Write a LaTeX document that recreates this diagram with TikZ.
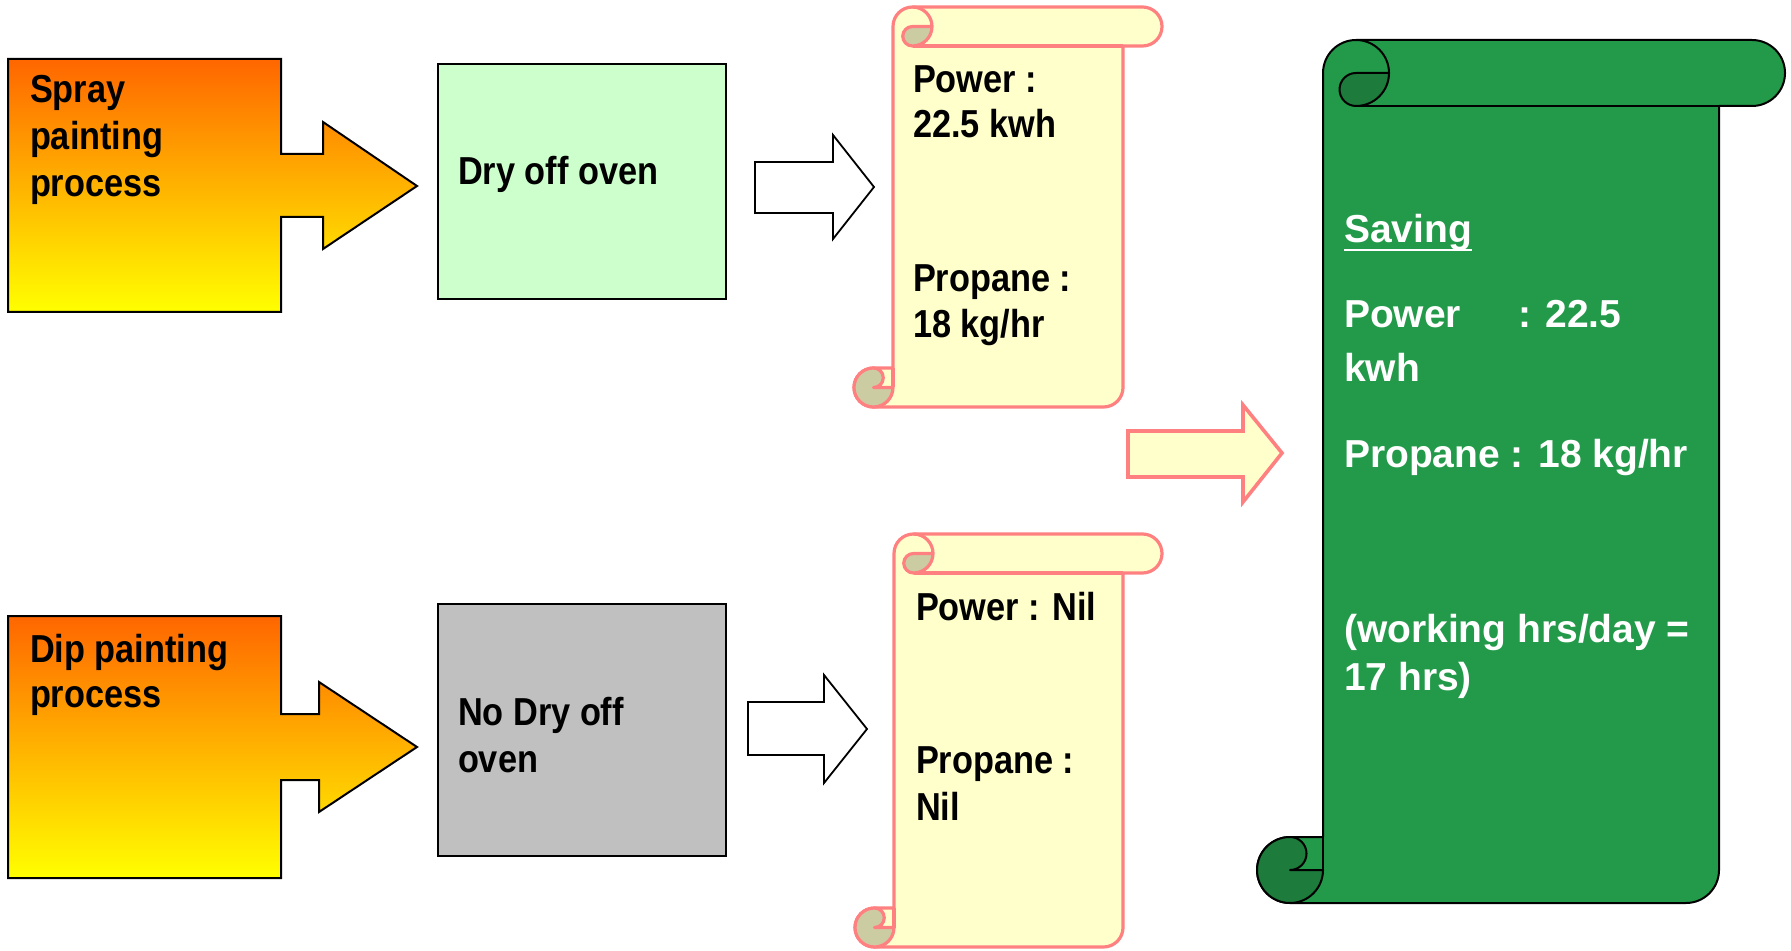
\documentclass[tikz,border=0pt]{standalone}
\usepackage{fontspec}
\setmainfont{Liberation Sans}
\newfontfamily\cond{Liberation Sans}[FakeStretch=0.88]
\usetikzlibrary{calc}
\definecolor{scrollfill}{HTML}{FFFFCC}
\definecolor{scrollline}{HTML}{FF8080}
\definecolor{scrolldark}{HTML}{CCCCA3}
\definecolor{gfill}{HTML}{239A4A}
\definecolor{gdark}{HTML}{1D7B3B}
\definecolor{boxgreen}{HTML}{CCFFCC}
\definecolor{boxgray}{HTML}{C0C0C0}
\definecolor{orangetop}{HTML}{FF6600}
\definecolor{yellowbot}{HTML}{FFFF00}
% scroll: #1 left, #2 top, #3 right, #4 bottom (pixels, y downward), #5 curl size, #6 fill, #7 dark fill, #8 line style
\newcommand\drawscroll[8]{%
  \pgfmathsetmacro\sL{#1}\pgfmathsetmacro\sT{-(#2)}%
  \pgfmathsetmacro\sR{#3}\pgfmathsetmacro\sB{-(#4)}%
  \pgfmathsetmacro\sc{#5}\pgfmathsetmacro\sh{#5/2}\pgfmathsetmacro\sq{#5/4}%
  \pgfmathsetmacro\sxl{#1+#5}\pgfmathsetmacro\sxr{#3-#5}%
  \filldraw[#8, fill=#6] (\sxl,\sT-\sh) arc[start angle=180, end angle=90, radius=\sh]
    -- (\sR-\sh,\sT) arc[start angle=90, end angle=-90, radius=\sh]
    -- (\sxr,\sT-\sc) -- (\sxr,\sB+\sh) arc[start angle=0, end angle=-90, radius=\sh]
    -- (\sL+\sh,\sB) arc[start angle=270, end angle=90, radius=\sh]
    -- (\sxl,\sB+\sc) -- cycle;
  \draw[#8] (\sxl+\sh,\sT-\sc) -- (\sxr,\sT-\sc);
  \draw[#8] (\sxl+\sh,\sT) arc[start angle=90, end angle=0, radius=\sh];
  \filldraw[#8, fill=#7] (\sxl+\sh,\sT-\sh) -- (\sxl+\sc,\sT-\sh)
    arc[start angle=0, end angle=-90, radius=\sh]
    arc[start angle=270, end angle=90, radius=\sq] -- cycle;
  \filldraw[#8, fill=#7] (\sL+\sh,\sB+\sc) arc[start angle=90, end angle=360, radius=\sh]
    -- (\sL+\sh,\sB+\sh) arc[start angle=-90, end angle=90, radius=\sq] -- cycle;
  \draw[#8] (\sxl,\sB+\sc) -- (\sxl,\sB+\sh);
}
\begin{document}
\begin{tikzpicture}[x=0.5pt, y=0.5pt,
  txt/.style={anchor=base west, inner sep=0pt, outer sep=0pt, align=left,
    font=\cond\bfseries\fontsize{19.5}{#1}\selectfont},
  txt/.default=23pt,
  gtxt/.style={anchor=base west, inner sep=0pt, outer sep=0pt, align=left, text=white,
    font=\bfseries\fontsize{19.5}{#1}\selectfont},
  gtxt/.default=27pt,
  callout/.style={top color=orangetop, bottom color=yellowbot, draw=black, line width=1pt},
  ovenbox/.style={draw=black, line width=0.9pt, anchor=north west, inner sep=0pt,
    minimum width=144pt},
  hollow/.style={draw=black, line width=0.9pt, fill=white},
  bigarrow/.style={draw=scrollline, line width=1.8pt, fill=scrollfill, line join=miter},
  yscroll/.style={draw=scrollline, line width=1.6pt, line join=round},
  gscroll/.style={draw=black, line width=1pt, line join=round}]
\useasboundingbox (0,0) rectangle (1791,-951);

% callouts
\shadedraw[callout] (8,-59) -- (281,-59) -- (281,-154) -- (323,-154) -- (323,-122)
  -- (417,-186) -- (323,-249) -- (323,-217) -- (281,-217) -- (281,-312) -- (8,-312) -- cycle;
\shadedraw[callout] (8,-616) -- (281,-616) -- (281,-714) -- (319,-714) -- (319,-682)
  -- (417,-747) -- (319,-812) -- (319,-780) -- (281,-780) -- (281,-878) -- (8,-878) -- cycle;
% multi-line nodes: the base anchor is the baseline of the last line
\node[txt=23.5pt] (spray) at (30,-197) {Spray\\painting\\process};
\node[txt=22.5pt] (dip) at (30,-707) {Dip painting\\process};

% oven boxes
\node[ovenbox, fill=boxgreen, minimum height=117.5pt] (drybox) at (437,-63) {};
\node[txt] (dry) at (458,-185) {Dry off oven};
\node[ovenbox, fill=boxgray, minimum height=126pt] (nodrybox) at (437,-603) {};
\node[txt=23.5pt] (nodry) at (458,-772) {No Dry off\\oven};

% hollow arrows
\filldraw[hollow] (755,-162) -- (833,-162) -- (833,-135) -- (874,-187) -- (833,-239)
  -- (833,-213) -- (755,-213) -- cycle;
\filldraw[hollow] (748,-702) -- (824,-702) -- (824,-675) -- (867,-729) -- (824,-783)
  -- (824,-755) -- (748,-755) -- cycle;

% yellow scrolls
\drawscroll{854}{7}{1162}{407}{39}{scrollfill}{scrolldark}{yscroll}
\drawscroll{855}{534}{1162}{947}{39}{scrollfill}{scrolldark}{yscroll}
\node[txt=22.5pt] (pow1) at (913,-138) {Power :\\22.5 kwh};
\node[txt=23pt] (prop1) at (913,-338) {Propane :\\18 kg/hr};
\node[txt] (pow2) at (916,-620) {Power : Nil};
\node[txt=23.5pt] (prop2) at (916,-820) {Propane :\\Nil};

% big arrow
\filldraw[bigarrow] (1128,-431) -- (1243,-431) -- (1243,-405) -- (1282,-453)
  -- (1243,-502) -- (1243,-477) -- (1128,-477) -- cycle;

% green scroll
\drawscroll{1257}{40}{1785}{903}{66}{gfill}{gdark}{gscroll}
\node[gtxt] (saving) at (1344,-243) {Saving};
\draw[white, line width=1.3pt] ([yshift=-3.6pt]saving.base west) -- ([yshift=-3.6pt]saving.base east);
\node[gtxt=27pt] (gpower) at (1344,-382) {\makebox[87pt][l]{Power}: 22.5\\kwh};
\node[gtxt] (gprop) at (1344,-467) {Propane : 18 kg/hr};
\node[gtxt=24pt] (gwork) at (1344,-690) {(working hrs/day =\\17 hrs)};
\end{tikzpicture}
\end{document}
